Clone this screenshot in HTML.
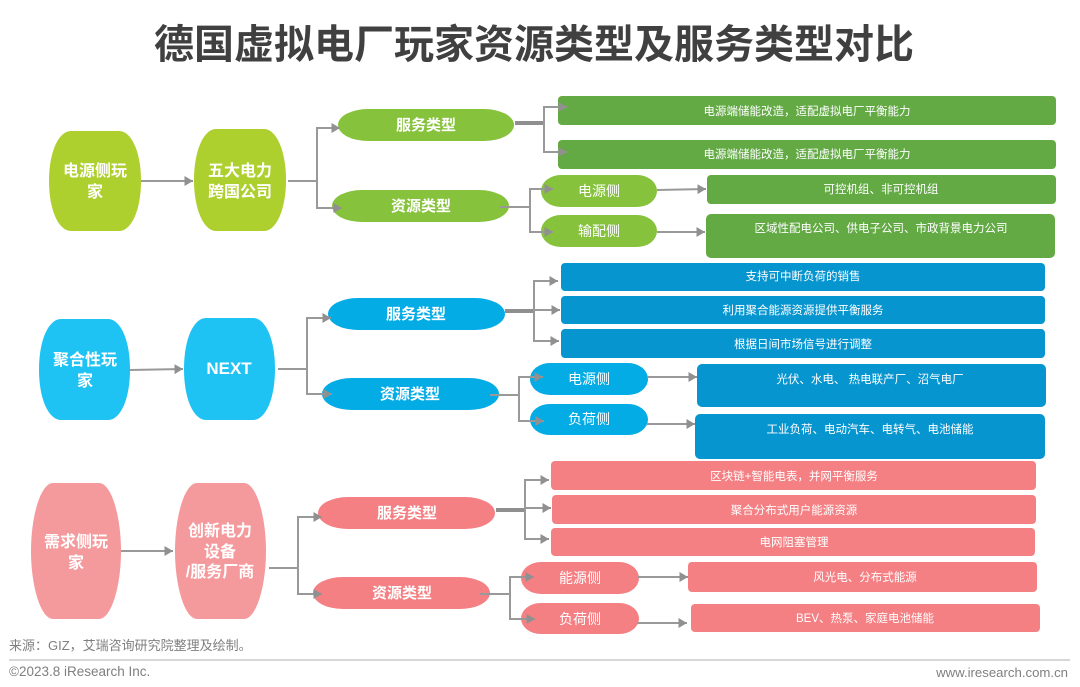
<!DOCTYPE html>
<html lang="zh"><head><meta charset="utf-8"><title>德国虚拟电厂玩家资源类型及服务类型对比</title>
<style>
html,body{margin:0;padding:0;background:#fff}
svg{display:block}
text{font-family:"Liberation Sans","Noto Sans CJK SC",sans-serif;text-anchor:middle;fill:#fff}
.t{font-size:40px;font-weight:700;fill:#404040}
.b{font-size:16px;font-weight:700}
.p{font-size:15px;font-weight:700}
.s{font-size:14px}
.r{font-size:11.5px}
.c{fill:none;stroke:#999;stroke-width:2}
.k{fill:none;stroke:#8f8f8f;stroke-width:4}
.f{font-size:13px;fill:#7f7f7f;text-anchor:start}
</style></head><body>
<svg width="1080" height="687" viewBox="0 0 1080 687" xmlns="http://www.w3.org/2000/svg">
<defs><marker id="a" markerUnits="userSpaceOnUse" markerWidth="10" markerHeight="12" refX="8.5" refY="6" orient="auto"><path d="M0 1L8.5 6L0 11Z" fill="#909090"/></marker></defs>
<rect width="1080" height="687" fill="#fff"/>
<text x="534" y="58" class="t">德国虚拟电厂玩家资源类型及服务类型对比</text>

<!-- green -->
<g fill="#add02f">
<path d="M71 131H119C131 131 141 151 141 181C141 211 131 231 119 231H71C59 231 49 211 49 181C49 151 59 131 71 131Z"/>
<path d="M216 129H264C276 129 286 150 286 180C286 210 276 231 264 231H216C204 231 194 210 194 180C194 150 204 129 216 129Z"/>
</g>
<g fill="#86c23c">
<rect x="338" y="109" width="176" height="32" rx="30" ry="16"/>
<rect x="332" y="190" width="177" height="32" rx="30" ry="16"/>
<rect x="541" y="175" width="116" height="32" rx="20" ry="16"/>
<rect x="541" y="215" width="116" height="32" rx="20" ry="16"/>
</g>
<g fill="#63aa45">
<rect x="558" y="96" width="498" height="29" rx="4"/>
<rect x="558" y="140" width="498" height="29" rx="4"/>
<rect x="707" y="175" width="349" height="29" rx="4"/>
<rect x="706" y="214" width="349" height="44" rx="5"/>
</g>
<path class="c" marker-end="url(#a)" d="M141 181H193"/>
<path class="c" marker-end="url(#a)" d="M288 181H317V128H340"/>
<path class="c" marker-end="url(#a)" d="M317 181V208H342"/>
<path class="k" d="M515 123H544"/>
<path class="c" marker-end="url(#a)" d="M544 123V107H567"/>
<path class="c" marker-end="url(#a)" d="M544 123V152H567"/>
<path class="c" marker-end="url(#a)" d="M500 207H530V189H553"/>
<path class="c" marker-end="url(#a)" d="M530 207V232H553"/>
<path class="c" marker-end="url(#a)" d="M657 190L706 189"/>
<path class="c" marker-end="url(#a)" d="M657 232H705"/>
<text x="95" y="176" class="b">电源侧玩</text><text x="95" y="197" class="b">家</text>
<text x="240" y="176" class="b">五大电力</text><text x="240" y="197" class="b">跨国公司</text>
<text x="426" y="130" class="p">服务类型</text><text x="421" y="211" class="p">资源类型</text>
<text x="599" y="196" class="s">电源侧</text><text x="599" y="236" class="s">输配侧</text>
<text x="807" y="115" class="r">电源端储能改造，适配虚拟电厂平衡能力</text>
<text x="807" y="158" class="r">电源端储能改造，适配虚拟电厂平衡能力</text>
<text x="881" y="193" class="r">可控机组、非可控机组</text>
<text x="881" y="232" class="r">区域性配电公司、供电子公司、市政背景电力公司</text>

<!-- blue -->
<g fill="#1fc3f3">
<path d="M61 319H108C120 319 130 339 130 369.5C130 400 120 420 108 420H61C49 420 39 400 39 369.5C39 339 49 319 61 319Z"/>
<path d="M206 318H253C265 318 275 338 275 369C275 400 265 420 253 420H206C194 420 184 400 184 369C184 338 194 318 206 318Z"/>
</g>
<g fill="#04ace6">
<rect x="328" y="298" width="177" height="32" rx="30" ry="16"/>
<rect x="322" y="378" width="177" height="32" rx="30" ry="16"/>
<rect x="530" y="363" width="118" height="32" rx="20" ry="16"/>
<rect x="530" y="404" width="118" height="31" rx="20" ry="15.5"/>
</g>
<g fill="#0795d0">
<rect x="561" y="263" width="484" height="28" rx="4"/>
<rect x="561" y="296" width="484" height="28" rx="4"/>
<rect x="561" y="329" width="484" height="29" rx="4"/>
<rect x="697" y="364" width="349" height="43" rx="5"/>
<rect x="695" y="414" width="350" height="45" rx="5"/>
</g>
<path class="c" marker-end="url(#a)" d="M130 370L183 369"/>
<path class="c" marker-end="url(#a)" d="M278 369H307V318H331"/>
<path class="c" marker-end="url(#a)" d="M307 369V394H332"/>
<path class="k" d="M505 311H534"/>
<path class="c" marker-end="url(#a)" d="M534 311V281H558"/>
<path class="c" marker-end="url(#a)" d="M534 310H560"/>
<path class="c" marker-end="url(#a)" d="M534 311V341H559"/>
<path class="c" marker-end="url(#a)" d="M490 395H519V377H543"/>
<path class="c" marker-end="url(#a)" d="M519 395V421H544"/>
<path class="c" marker-end="url(#a)" d="M647 377H697"/>
<path class="c" marker-end="url(#a)" d="M647 424H695"/>
<text x="85" y="365" class="b">聚合性玩</text><text x="85" y="386" class="b">家</text>
<text x="229" y="374" class="b" style="font-size:17px">NEXT</text>
<text x="416" y="319" class="p">服务类型</text><text x="410" y="399" class="p">资源类型</text>
<text x="589" y="384" class="s">电源侧</text><text x="589" y="424" class="s">负荷侧</text>
<text x="803" y="280" class="r">支持可中断负荷的销售</text>
<text x="803" y="314" class="r">利用聚合能源资源提供平衡服务</text>
<text x="803" y="348" class="r">根据日间市场信号进行调整</text>
<text x="870" y="383" class="r">光伏、水电、 热电联产厂、沼气电厂</text>
<text x="870" y="433" class="r">工业负荷、电动汽车、电转气、电池储能</text>

<!-- pink -->
<g fill="#f59a9c">
<path d="M53 483H99C111 483 121 515 121 551C121 587 111 619 99 619H53C41 619 31 587 31 551C31 515 41 483 53 483Z"/>
<path d="M197 483H244C256 483 266 515 266 551C266 587 256 619 244 619H197C185 619 175 587 175 551C175 515 185 483 197 483Z"/>
</g>
<g fill="#f48084">
<rect x="318" y="497" width="177" height="32" rx="30" ry="16"/>
<rect x="313" y="577" width="177" height="32" rx="30" ry="16"/>
<rect x="521" y="562" width="118" height="32" rx="20" ry="16"/>
<rect x="521" y="603" width="118" height="31" rx="20" ry="15.5"/>
<rect x="551" y="461" width="485" height="29" rx="4"/>
<rect x="552" y="495" width="484" height="29" rx="4"/>
<rect x="551" y="528" width="484" height="28" rx="4"/>
<rect x="688" y="562" width="349" height="30" rx="4"/>
<rect x="691" y="604" width="349" height="28" rx="4"/>
</g>
<path class="c" marker-end="url(#a)" d="M121 551H173"/>
<path class="c" marker-end="url(#a)" d="M269 568H298V517H322"/>
<path class="c" marker-end="url(#a)" d="M298 568V594H322"/>
<path class="k" d="M496 510H525"/>
<path class="c" marker-end="url(#a)" d="M525 510V480H549"/>
<path class="c" marker-end="url(#a)" d="M525 508H551"/>
<path class="c" marker-end="url(#a)" d="M525 510V539H549"/>
<path class="c" marker-end="url(#a)" d="M480 594H510V577H534"/>
<path class="c" marker-end="url(#a)" d="M510 594V619H535"/>
<path class="c" marker-end="url(#a)" d="M638 577H688"/>
<path class="c" marker-end="url(#a)" d="M637 623H687"/>
<text x="76" y="547" class="b">需求侧玩</text><text x="76" y="568" class="b">家</text>
<text x="220" y="536" class="b">创新电力</text><text x="220" y="557" class="b">设备</text><text x="220" y="577" class="b">/服务厂商</text>
<text x="407" y="518" class="p">服务类型</text><text x="402" y="598" class="p">资源类型</text>
<text x="580" y="583" class="s">能源侧</text><text x="580" y="624" class="s">负荷侧</text>
<text x="794" y="480" class="r">区块链+智能电表，并网平衡服务</text>
<text x="794" y="514" class="r">聚合分布式用户能源资源</text>
<text x="794" y="546" class="r">电网阻塞管理</text>
<text x="865" y="581" class="r">风光电、分布式能源</text>
<text x="865" y="622" class="r">BEV、热泵、家庭电池储能</text>

<!-- footer -->
<text x="9" y="650" class="f">来源：GIZ，艾瑞咨询研究院整理及绘制。</text>
<path d="M9 660H1070" stroke="#bfbfbf" stroke-width="1.2" fill="none"/>
<text x="9" y="676" class="f" style="font-size:13.5px">©2023.8 iResearch Inc.</text>
<text x="1068" y="677" class="f" style="font-size:13.2px;text-anchor:end">www.iresearch.com.cn</text>
</svg>
</body></html>
